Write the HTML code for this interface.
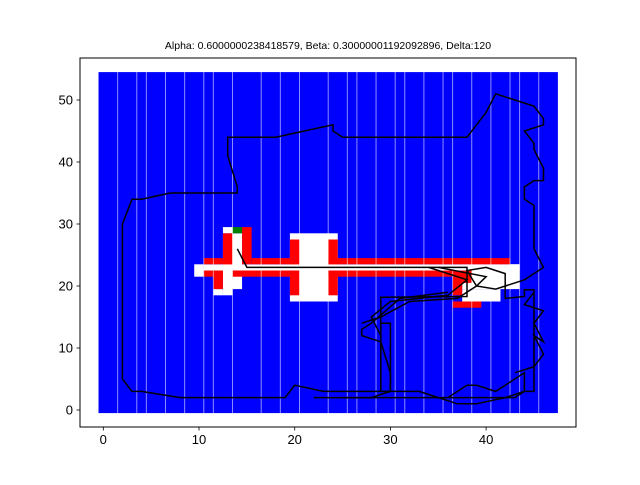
<!DOCTYPE html>
<html><head><meta charset="utf-8"><style>
html,body{margin:0;padding:0;background:#fff;}
svg text{font-family:"Liberation Sans","DejaVu Sans",sans-serif;}
</style></head><body>
<svg id="chart" width="640" height="480" viewBox="0 0 640 480" xmlns="http://www.w3.org/2000/svg">
<text x="328" y="49" font-size="10.5" text-anchor="middle">Alpha: 0.6000000238418579, Beta: 0.30000001192092896, Delta:120</text>
<g id="plot"></g>
<g id="axes"></g>
</svg>
<script>
// grid extent (cells)
const gridCols = 48;
const gridRows = 55;
// cell ranges [col0, col1, row0, row1]
const whiteCells = [[10,10,22,23],[11,43,23,23],[13,13,19,28],[14,14,20,28],[13,13,29,29],[12,12,19,19],[20,24,18,28],[38,43,20,23],[38,41,18,19]];
const redCells = [[11,13,24,24],[13,13,24,28],[15,15,24,29],[16,20,24,24],[20,20,24,27],[24,24,24,27],[24,42,24,24],
  [11,12,22,22],[12,12,20,22],[14,20,22,22],[20,20,19,22],[24,24,19,22],[24,38,22,22],[37,37,19,22],[38,38,21,22],[37,39,17,17]];
const greenCells = [[14,14,29,29]];
const seamCols = [1.5,3.5,4.5,6.5,8.5,10.5,11.5,13.5,16.5,18.5,20.5,23.5,25.5,26.5,28.5,30.5,31.5,33.5,35.5,36.5,38.5,40.5,42.5,43.5,45.5];
// path segments (data coords)
const path1X = [14,15,38,38,29,29,33,34,37,39,42,44,45,45,44,44,42,42,40,38,39,41,44,46,45,45,44,44,45,46,46,45,45,44,46,46,45,41,40,38,25,24,24,18,13,13,14,14,7,4,3,2,2,3,4,8,19,20,23,30,33];
const path1Y = [26,23,23,18.3,18.2,3,3,2.5,1,1,2,3,3,19.4,19.4,18.3,18,22,23,22.5,20,19.5,21,23,26,33,34,36,37,37,39,42,43,45,46,47,49,51,48,44,44,45,46,44,44,41,36,35,35,34,34,30,5,3,3,2,2,4,3,3,3];
const path2X = [22,43,44,44,42,41,39,38,36];
const path2Y = [2,2,3,6,4,3,4,4,2];
const path3X = [43,45,46,45,46,45,46,44,45];
const path3Y = [6,7,9,12,11,14,16,17,19];
const path4X = [36,31,28,27,27,29,30,30,28,25];
const path4Y = [19,18,14,13,12,11,6,3,2,2];
const path5X = [29,30,30];
const path5Y = [14,14,3];
const path6X = [34,38,36,30,28,29];
const path6Y = [23,21,18.5,17.5,15,12];
const path7X = [35,40,39,37,32,29,27];
const path7Y = [23,21.5,20,18,17.5,15,14];
const xTicks = [0,10,20,30,40];
const yTicks = [0,10,20,30,40,50];

const NS = "http://www.w3.org/2000/svg";
const X0 = 103.3, XS = 9.57, Y0 = 410, YS = 6.2;
const sx = v => X0 + v*XS;
const sy = v => Y0 - v*YS;
const plot = document.getElementById('plot');
const axes = document.getElementById('axes');
function mk(tag, attrs, parent){const e=document.createElementNS(NS,tag);for(const k in attrs)e.setAttribute(k,attrs[k]);parent.appendChild(e);return e;}

const bg = mk('rect',{x:sx(-0.5),y:sy(gridRows-0.5),width:gridCols*XS,height:gridRows*YS,fill:'#0000ff'},plot);


function drawCells(list, color, name){
  list.forEach(c=>{
    const r = mk('rect',{x:sx(c[0]-0.5),y:sy(c[3]+0.5),width:(c[1]-c[0]+1)*XS,height:(c[3]-c[2]+1)*YS,fill:color},plot);
    
    
  });
}
drawCells(whiteCells,'#ffffff','explored-cell');
drawCells(redCells,'#ff0000','obstacle-cell');
drawCells(greenCells,'#008000','goal-cell');
seamCols.forEach(c=>{
  const l = mk('line',{x1:sx(c),x2:sx(c),y1:sy(gridRows-0.5),y2:sy(-0.5),stroke:'rgba(255,255,255,0.55)','stroke-width':1},plot);
  
  
});
function drawPath(xs, ys, name){
  const pts = xs.map((x,i)=>sx(x).toFixed(1)+','+sy(ys[i]).toFixed(1)).join(' ');
  const p = mk('polyline',{points:pts,fill:'none',stroke:'#000','stroke-width':1.5,'stroke-linejoin':'miter'},plot);
  
  
}
drawPath(path1X,path1Y,'robot-path');
drawPath(path2X,path2Y,'robot-path-segment');
drawPath(path3X,path3Y,'robot-path-segment');
drawPath(path4X,path4Y,'robot-path-segment');
drawPath(path5X,path5Y,'robot-path-segment');
drawPath(path6X,path6Y,'robot-path-segment');
drawPath(path7X,path7Y,'robot-path-segment');

const frame = mk('rect',{x:80,y:58,width:496,height:369,fill:'none',stroke:'#000','stroke-width':1},axes);


xTicks.forEach(t=>{
  const l = mk('line',{x1:sx(t),x2:sx(t),y1:427,y2:430.5,stroke:'#000','stroke-width':0.8},axes);
  
  
  const tx = mk('text',{x:sx(t),y:444,'font-size':13,'text-anchor':'middle'},axes);
  tx.textContent = t;
  
  
});
yTicks.forEach(t=>{
  const l = mk('line',{x1:76.5,x2:80,y1:sy(t),y2:sy(t),stroke:'#000','stroke-width':0.8},axes);
  
  
  const tx = mk('text',{x:73,y:sy(t)+4.5,'font-size':13,'text-anchor':'end'},axes);
  tx.textContent = t;
  
  
});
</script>
</body></html>
